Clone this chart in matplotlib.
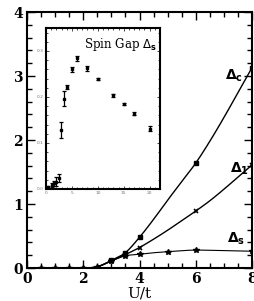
import matplotlib
matplotlib.use("Agg")
import matplotlib.pyplot as plt
from matplotlib.ticker import MultipleLocator
import numpy as np

# ---- main panel data ----
U_curve = [0, 0.5, 1, 1.5, 2, 2.5, 3, 3.5, 4, 4.5, 5, 5.5, 6, 6.5, 7, 7.5, 8]
dc_curve = [0, 0, 0, 0, 0, 0.02, 0.12, 0.24, 0.48, 0.76, 1.06, 1.35, 1.64, 1.98, 2.35, 2.74, 3.13]
d1_curve = [0, 0, 0, 0, 0, 0.02, 0.11, 0.21, 0.32, 0.45, 0.59, 0.74, 0.89, 1.05, 1.23, 1.42, 1.61]
U_s_curve = [0, 0.5, 1, 1.5, 2, 2.5, 3, 3.5, 4, 4.5, 5, 5.5, 6, 7, 8]
ds_curve = [0, 0, 0, 0, 0, 0.02, 0.11, 0.19, 0.215, 0.238, 0.255, 0.27, 0.28, 0.272, 0.262]

U_c_pts = [3, 3.5, 4, 6, 8]
dc_pts = [0.12, 0.24, 0.48, 1.64, 3.13]
U_1_pts = [3, 3.5, 4, 6, 8]
d1_pts = [0.11, 0.21, 0.32, 0.89, 1.61]
U_s_pts = [0.5, 1, 1.5, 2, 2.5, 3, 3.5, 4, 5, 6, 8]
ds_pts = [0.0, 0.0, 0.0, 0.0, 0.01, 0.11, 0.19, 0.215, 0.255, 0.28, 0.262]

# ---- inset data ----
ins_U = [0.4, 1.1, 1.5, 2.0, 2.5, 2.9, 3.5, 4, 5, 6, 8, 10, 13, 15, 17, 20]
ins_gap = [0.005, 0.009, 0.012, 0.016, 0.024, 0.128, 0.196, 0.222, 0.26, 0.284, 0.262, 0.239, 0.204, 0.185, 0.164, 0.131]
ins_err = [0.002, 0.004, 0.006, 0.01, 0.008, 0.018, 0.016, 0.004, 0.005, 0.005, 0.005, 0.003, 0.003, 0.003, 0.004, 0.005]


def smooth(x, y, n=12):
    """Catmull-Rom rendering of a polyline through the read points."""
    x = np.asarray(x, float); y = np.asarray(y, float)
    px = np.concatenate([[2 * x[0] - x[1]], x, [2 * x[-1] - x[-2]]])
    py = np.concatenate([[2 * y[0] - y[1]], y, [2 * y[-1] - y[-2]]])
    t = np.linspace(0, 1, n, endpoint=False)
    xs, ys = [], []
    for i in range(1, len(px) - 2):
        for P, out in ((px, xs), (py, ys)):
            p0, p1, p2, p3 = P[i - 1], P[i], P[i + 1], P[i + 2]
            out.extend(0.5 * (2 * p1 + (-p0 + p2) * t + (2 * p0 - 5 * p1 + 4 * p2 - p3) * t ** 2
                              + (-p0 + 3 * p1 - 3 * p2 + p3) * t ** 3))
    xs.append(x[-1]); ys.append(y[-1])
    return np.array(xs), np.array(ys)


serif = "DejaVu Serif"
fig = plt.figure(figsize=(2.54, 3.01), dpi=100)
ax = fig.add_axes([27/254, 33/301, 225/254, 256/301])

for xx, yy, lw in ((U_curve, dc_curve, 1.0), (U_curve, d1_curve, 1.0), (U_s_curve, ds_curve, 0.8)):
    sx, sy = smooth(xx, yy)
    ax.plot(sx, np.clip(sy, 0, None), color="black", lw=lw)
ax.plot(U_c_pts, dc_pts, ls="none", marker="s", ms=2.5, color="black")
ax.plot(U_1_pts, d1_pts, ls="none", marker="x", ms=3, mew=1.2, color="black")
ax.plot(U_s_pts, ds_pts, ls="none", marker="*", ms=4, color="black")

ax.set_xlim(0, 8)
ax.set_ylim(0, 4)
ax.xaxis.set_major_locator(MultipleLocator(2))
ax.xaxis.set_minor_locator(MultipleLocator(0.5))
ax.yaxis.set_major_locator(MultipleLocator(1))
ax.yaxis.set_minor_locator(MultipleLocator(0.2))
ax.tick_params(which="both", direction="in", top=True, right=True, width=1.0)
ax.tick_params(which="major", length=6, labelsize=10, pad=3)
ax.tick_params(which="minor", length=3.5)
for lab in ax.get_xticklabels() + ax.get_yticklabels():
    lab.set_fontfamily(serif)
    lab.set_fontweight("bold")
for s in ax.spines.values():
    s.set_linewidth(1.5)
ax.set_xlabel("U/t", fontsize=11, family=serif, labelpad=0)

ax.text(7.05, 3.0, r"$\mathbf{\Delta_c}$", fontsize=10, ha="left", va="center")
ax.text(7.2, 1.55, r"$\mathbf{\Delta_1}$", fontsize=10, ha="left", va="center")
ax.text(7.1, 0.45, r"$\mathbf{\Delta_s}$", fontsize=10, ha="left", va="center")

# ---- inset ----
ins = fig.add_axes([46/254, 112/301, 114/254, 161/301])
ins.errorbar(ins_U, ins_gap, yerr=ins_err, fmt="s", ms=1.8, color="black",
             elinewidth=0.9, capsize=1.2, capthick=0.9)
ins.set_xlim(0, 22)
ins.set_ylim(0, 0.35)
ins.xaxis.set_major_locator(MultipleLocator(5))
ins.xaxis.set_minor_locator(MultipleLocator(1))
ins.yaxis.set_major_locator(MultipleLocator(0.1))
ins.yaxis.set_minor_locator(MultipleLocator(0.02))
ins.tick_params(which="both", direction="in", top=True, right=True, width=0.5,
                labelsize=3.2, pad=1.5, colors="black", labelcolor="#777777")
ins.tick_params(which="major", length=2.5)
ins.tick_params(which="minor", length=1.2)
for s in ins.spines.values():
    s.set_linewidth(1.5)
ins.text(0.97, 0.9, r"Spin Gap $\Delta_\mathbf{s}$", transform=ins.transAxes,
         ha="right", va="center", fontsize=8.5, family=serif)

fig.savefig("out.png", dpi=100)
